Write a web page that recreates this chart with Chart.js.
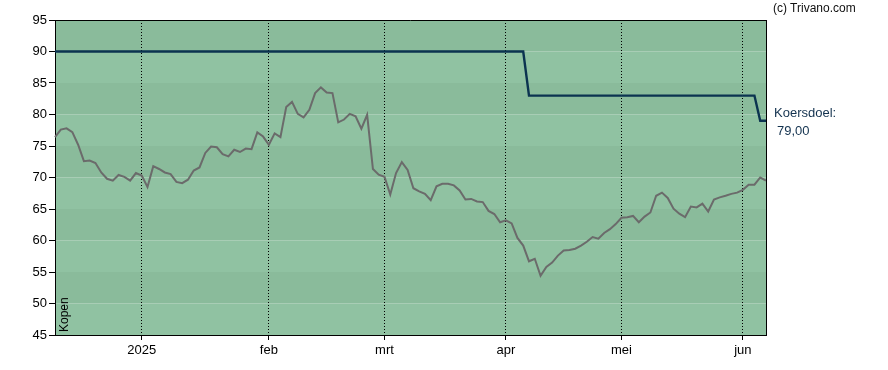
<!DOCTYPE html>
<html lang="nl">
<head>
    <meta charset="UTF-8">
    <title>Koers en koersdoel</title>
    <script src="https://cdn.jsdelivr.net/npm/chart.js"></script>
    <style>
        body { margin: 0; background: #fff; }
        .wrap { position: relative; width: 888px; height: 370px; font-family: "Liberation Sans", Arial, sans-serif; }
        .note { position: absolute; white-space: nowrap; line-height: 1; }
        #copy { left: 773px; top: 2px; font-size: 12px; color: #111; }
        #doel { left: 774px; top: 106px; font-size: 13px; color: #13324f; }
        #doelval { left: 777px; top: 124px; font-size: 13px; color: #13324f; }
        #kopen { font-size: 12px; color: #000; transform: rotate(-90deg); transform-origin: left top; top: 332px; left: 58px; }
    </style>
</head>
<body>
<div class="wrap">
    <canvas id="chart" width="888" height="370"></canvas>
    <div class="note" id="copy">(c) Trivano.com</div>
    <div class="note" id="doel">Koersdoel:</div>
    <div class="note" id="doelval">79,00</div>
    <div class="note" id="kopen">Kopen</div>
</div>

<script>
    // handelsdagen per maand
    const decDays = [9, 10, 11, 12, 13, 16, 17, 18, 19, 20, 23, 24, 27, 30, 31];
    const janDays = [2, 3, 6, 7, 8, 9, 10, 13, 14, 15, 16, 17, 20, 21, 22, 23, 24, 27, 28, 29, 30, 31];
    const febDays = [3, 4, 5, 6, 7, 10, 11, 12, 13, 14, 17, 18, 19, 20, 21, 24, 25, 26, 27, 28];
    const marDays = [3, 4, 5, 6, 7, 10, 11, 12, 13, 14, 17, 18, 19, 20, 21, 24, 25, 26, 27, 28, 31];
    const aprDays = [1, 2, 3, 4, 7, 8, 9, 10, 11, 14, 15, 16, 17, 22, 23, 24, 25, 28, 29, 30];
    const meiDays = [2, 5, 6, 7, 8, 9, 12, 13, 14, 15, 16, 19, 20, 21, 22, 23, 26, 27, 28, 29, 30];
    const junDays = [2, 3, 4, 5, 6];

    const monthNames = ['', '2025', 'feb', 'mrt', 'apr', 'mei', 'jun'];

    // slotkoers
    const prices = [
        76.4, 77.6, 77.8, 77.2, 75.2, 72.6, 72.7, 72.3, 70.8, 69.8,
        69.5, 70.4, 70.1, 69.5, 70.7, 70.3, 68.5, 71.8, 71.35, 70.8,
        70.55, 69.3, 69.1, 69.65, 71.1, 71.6, 73.9, 74.9, 74.8, 73.7,
        73.35, 74.4, 74.05, 74.6, 74.5, 77.15, 76.5, 75.2, 77.0, 76.4,
        81.2, 82.0, 80.1, 79.55, 80.75, 83.4, 84.3, 83.5, 83.4, 78.75,
        79.2, 80.1, 79.7, 77.75, 79.95, 71.35, 70.45, 70.1, 67.3, 70.7,
        72.45, 71.2, 68.3, 67.8, 67.4, 66.4, 68.6, 69.0, 69.0, 68.75,
        67.95, 66.5, 66.6, 66.2, 66.1, 64.7, 64.2, 62.9, 63.2, 62.7,
        60.4, 59.2, 56.7, 57.1, 54.4, 55.8, 56.5, 57.6, 58.4, 58.5,
        58.7, 59.2, 59.8, 60.55, 60.3, 61.2, 61.8, 62.6, 63.6, 63.7,
        63.9, 62.9, 63.8, 64.45, 67.1, 67.6, 66.75, 65.05, 64.25, 63.7,
        65.4, 65.25, 65.85, 64.6, 66.5, 66.85, 67.1, 67.4, 67.6, 68.05,
        68.85, 68.85, 70.0, 69.5
    ];

    // koersdoel: 90 tot begin april, dan 83, laatste dagen 79
    const targetSteps = [
        { until: 81, value: 90 },
        { until: 121, value: 83 },
        { until: 123, value: 79 }
    ];

    const yTicks = [45, 50, 55, 60, 65, 70, 75, 80, 85, 90, 95];

    // labels opbouwen
    const labels = [];
    const tickText = [];
    const months = [decDays, janDays, febDays, marDays, aprDays, meiDays, junDays];
    months.forEach((days, m) => {
        days.forEach((d, k) => {
            const yr = m === 0 ? 2024 : 2025;
            const mo = m === 0 ? 12 : m;
            labels.push(yr + '-' + String(mo).padStart(2, '0') + '-' + String(d).padStart(2, '0'));
            tickText.push(k === 0 ? monthNames[m] : '');
        });
    });

    const target = labels.map((_, i) => targetSteps.find(s => i <= s.until).value);

    const bandPlugin = {
        id: 'bands',
        beforeDraw(chart) {
            const { ctx, chartArea, scales } = chart;
            const y = scales.y;
            ctx.save();
            for (let i = 0; i < yTicks.length - 1; i++) {
                const top = y.getPixelForValue(yTicks[i + 1]);
                const bot = y.getPixelForValue(yTicks[i]);
                ctx.fillStyle = i % 2 === 0 ? '#90c2a2' : '#8abb9b';
                ctx.fillRect(chartArea.left, top, chartArea.right - chartArea.left, bot - top);
            }
            ctx.restore();
        },
        afterDraw(chart) {
            const { ctx, chartArea } = chart;
            ctx.save();
            ctx.strokeStyle = '#000';
            ctx.lineWidth = 1;
            ctx.beginPath();
            ctx.moveTo(chartArea.left, chartArea.top + 0.5);
            ctx.lineTo(chartArea.right, chartArea.top + 0.5);
            ctx.moveTo(chartArea.right + 0.5, chartArea.top);
            ctx.lineTo(chartArea.right + 0.5, chartArea.bottom);
            ctx.stroke();
            ctx.restore();
        }
    };

    const gridCol = c => (tickText[c.index] ? '#000' : 'rgba(0,0,0,0)');

    new Chart(document.getElementById('chart').getContext('2d'), {
        type: 'line',
        data: {
            labels: labels,
            datasets: [
                {
                    label: 'Koersdoel',
                    data: target,
                    borderColor: '#0b3350',
                    borderWidth: 2.4,
                    pointRadius: 0,
                    tension: 0
                },
                {
                    label: 'Koers',
                    data: prices,
                    borderColor: '#6b6b6b',
                    borderWidth: 2,
                    pointRadius: 0,
                    tension: 0
                }
            ]
        },
        options: {
            responsive: false,
            animation: false,
            layout: { padding: { left: 0, right: 122, top: 20, bottom: 0 } },
            plugins: { legend: { display: false }, tooltip: { enabled: false } },
            scales: {
                x: {
                    type: 'category',
                    afterFit: s => { s.height = 35; },
                    ticks: {
                        autoSkip: false,
                        maxRotation: 0,
                        padding: 3,
                        color: '#000',
                        font: { family: '"Liberation Sans", Arial, sans-serif', size: 13 },
                        callback: (v, i) => tickText[i]
                    },
                    grid: {
                        color: gridCol,
                        tickColor: gridCol,
                        lineWidth: 1,
                        tickLength: 5,
                        tickBorderDash: []
                    },
                    border: { color: '#000', width: 1, dash: [1, 2] }
                },
                y: {
                    min: 45,
                    max: 95,
                    afterFit: s => { s.width = 55; },
                    afterBuildTicks: s => { s.ticks = yTicks.map(v => ({ value: v })); },
                    ticks: {
                        padding: 2,
                        color: '#000',
                        font: { family: '"Liberation Sans", Arial, sans-serif', size: 13 }
                    },
                    grid: {
                        drawOnChartArea: false,
                        tickColor: '#000',
                        tickLength: 6
                    },
                    border: { color: '#000', width: 1 }
                }
            }
        },
        plugins: [bandPlugin]
    });
</script>
</body>
</html>
